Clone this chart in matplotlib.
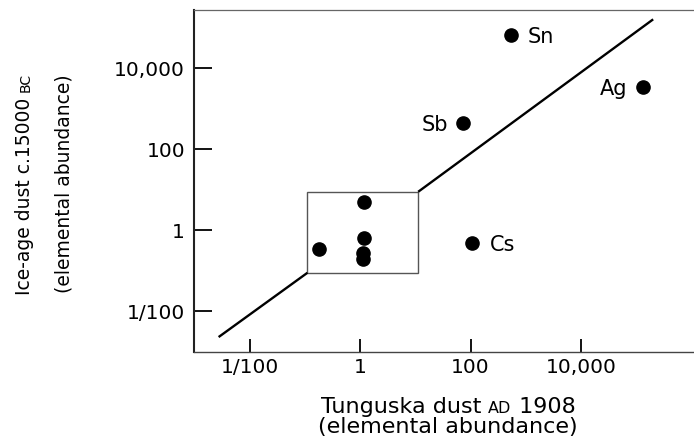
import matplotlib.pyplot as plt
from matplotlib.patches import Rectangle

# labelled elements (Tunguska dust vs ice-age dust)
elements = ['Sn', 'Sb', 'Ag', 'Cs']
tunguska = [550, 72, 135000, 107]
ice_age = [66000, 437, 3400, 0.49]
label_side = [1, -1, -1, 1]

# unlabelled points inside the box
box_x = [0.18, 1.17, 1.17, 1.12, 1.12]
box_y = [0.34, 4.9, 0.63, 0.28, 0.19]

# the box around the "normal" range
box_lo = (0.11, 0.089)
box_hi = (11.2, 8.9)

# equal-abundance line, broken by the box
line1_x = [0.0027, 0.11]
line1_y = [0.0023, 0.089]
line2_x = [11.2, 204000]
line2_y = [8.9, 162000]

ticks = [0.01, 1, 100, 10000]
tick_labels = ['1/100', '1', '100', '10,000']

W, H = 694, 442
plt.rcParams['font.family'] = 'DejaVu Sans'
fig = plt.figure(figsize=(W / 100, H / 100), dpi=100)
ax = fig.add_axes([194 / W, 1 - 351.7 / H, 1 - 194 / W, (351.7 - 10) / H])
ax.set_xscale('log')
ax.set_yscale('log')
ax.set_xlim(10 ** -3.015, 10 ** 6.05)
ax.set_ylim(10 ** -3.0, 10 ** 5.44)

ax.plot(line1_x, line1_y, color='black', lw=1.7, solid_capstyle='butt')
ax.plot(line2_x, line2_y, color='black', lw=1.7, solid_capstyle='butt')
ax.add_patch(Rectangle(box_lo, box_hi[0] - box_lo[0], box_hi[1] - box_lo[1],
                       fill=False, edgecolor='#555555', lw=1.0))

ax.plot(box_x, box_y, 'o', color='black', ms=9.5, ls='none')
ax.plot(tunguska, ice_age, 'o', color='black', ms=9.5, ls='none')
offs = [11.7, 10.6, 11.7, 12.7]
for name, x, y, s, o in zip(elements, tunguska, ice_age, label_side, offs):
    ax.annotate(name, (x, y), xytext=(s * o, 0), textcoords='offset points',
                ha='left' if s > 0 else 'right', va='center_baseline', fontsize=15)

ax.set_xticks(ticks)
ax.set_xticklabels(tick_labels)
ax.set_yticks(ticks)
ax.set_yticklabels(tick_labels)
ax.minorticks_off()
ax.tick_params(axis='x', direction='in', length=9.5, width=1.3, pad=4.5, labelsize=14.5)
ax.tick_params(axis='y', direction='in', length=13, width=1.3, pad=6.5, labelsize=14.5)

ax.spines['right'].set_visible(False)
ax.spines['left'].set_linewidth(1.5)
ax.spines['left'].set_color('#222222')
ax.spines['bottom'].set_color('#444444')
ax.spines['top'].set_color('#666666')
ax.spines['bottom'].set_linewidth(1.0)
ax.spines['top'].set_linewidth(0.9)


def label_row(pieces, cx, cy, rot=0):
    # place text pieces of different sizes on one baseline, centred on (cx, cy) pixels
    arts = [fig.text(0, 0, s, fontsize=fs, rotation=rot, rotation_mode='anchor',
                     ha='left', va='baseline') for s, fs in pieces]
    r = fig.canvas.get_renderer()
    lens = []
    for a in arts:
        bb = a.get_window_extent(r)
        lens.append(bb.width if rot == 0 else bb.height)
    pos = -sum(lens) / 2
    for a, L in zip(arts, lens):
        if rot == 0:
            a.set_position(((cx + pos) / W, 1 - cy / H))
        else:
            a.set_position((cx / W, 1 - (cy - pos) / H))
        pos += L


label_row([('Tunguska dust ', 16), ('AD', 11.5), (' 1908', 16)], 448, 413)
label_row([('(elemental abundance)', 16)], 448, 433)
label_row([('Ice-age dust c.15000 ', 13.5), ('BC', 10)], 30, 184, rot=90)
label_row([('(elemental abundance)', 13.5)], 69, 184, rot=90)

fig.savefig('out.png', dpi=100)
